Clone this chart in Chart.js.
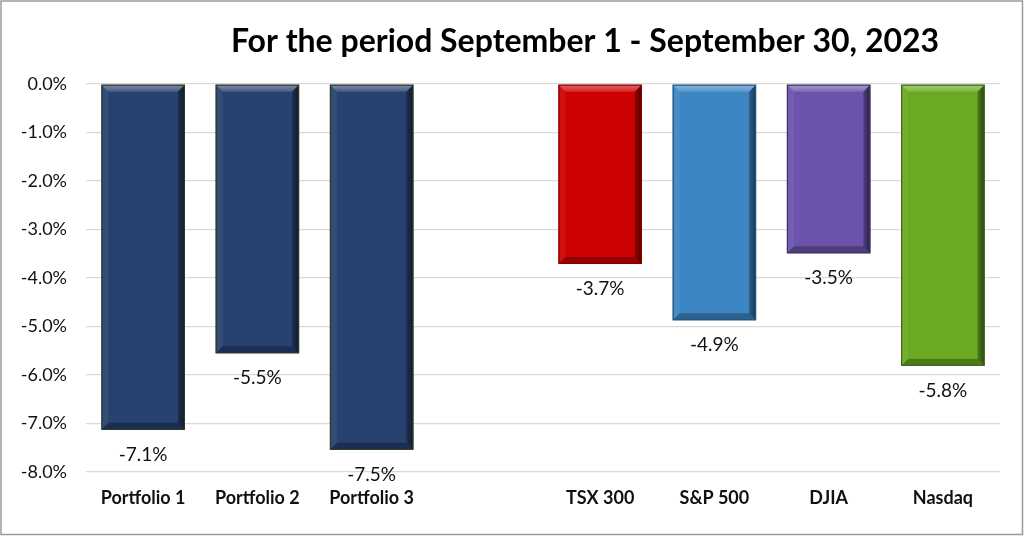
<!DOCTYPE html>
<html>
<head>
<meta charset="utf-8">
<script src="https://cdn.jsdelivr.net/npm/chart.js@4.4.0/dist/chart.umd.min.js"></script>
<style>
  html, body { margin: 0; padding: 0; background: #fff; }
  #wrap { width: 1024px; height: 536px; position: relative; }
  canvas { display: block; }
</style>
</head>
<body>
<div id="wrap"><canvas id="c" width="1024" height="536"></canvas></div>
<script>
const titleText = "For the period September 1 - September 30, 2023";
const categories = ["Portfolio 1", "Portfolio 2", "Portfolio 3", "", "TSX 300", "S&P 500", "DJIA", "Nasdaq"];
const returnsPct = [-7.13, -5.55, -7.54, null, -3.71, -4.87, -3.49, -5.81];
const barColors = ["#28416e", "#28416e", "#28416e", "#ffffff", "#cc0202", "#3d86c4", "#6c54ad", "#6aaa22"];
const barBorders = ["#2b3a22", "#2b3a22", "#2b3a22", "#ffffff", "#8a0000", "#24557f", "#3f3166", "#3d6313"];
const yTickMin = -8;
const yTickMax = 0;
const yTickStep = 1;

const FONT = "Lato, 'Open Sans', sans-serif";

const borderPlugin = {
  id: 'outerBorder',
  beforeDraw(chart) {
    const ctx = chart.ctx;
    ctx.save();
    ctx.fillStyle = '#ffffff';
    ctx.fillRect(0, 0, chart.width, chart.height);
    ctx.strokeStyle = '#9a9a9a';
    ctx.lineWidth = 1.5;
    ctx.strokeRect(1, 1, chart.width - 2.5, chart.height - 2.5);
    ctx.restore();
  }
};

const titlePlugin = {
  id: 'customTitle',
  afterDraw(chart) {
    const ctx = chart.ctx;
    ctx.save();
    ctx.font = "bold 32px " + FONT;
    ctx.fillStyle = '#000';
    ctx.textAlign = 'center';
    ctx.textBaseline = 'middle';
    ctx.fillText(titleText, 585, 42);
    ctx.restore();
  }
};

const bevelPlugin = {
  id: 'bevel',
  afterDatasetsDraw(chart) {
    const ctx = chart.ctx;
    const meta = chart.getDatasetMeta(0);
    meta.data.forEach((bar, i) => {
      if (returnsPct[i] === null) return;
      const p = bar.getProps(['x', 'y', 'base', 'width'], true);
      const l = p.x - p.width / 2, r = p.x + p.width / 2;
      const t = Math.min(p.y, p.base), b = Math.max(p.y, p.base);
      const d = 7;
      ctx.save();
      let g = ctx.createLinearGradient(0, t, 0, t + d);
      g.addColorStop(0, 'rgba(255,255,255,0.40)');
      g.addColorStop(1, 'rgba(255,255,255,0.15)');
      ctx.fillStyle = g;
      ctx.beginPath();
      ctx.moveTo(l, t); ctx.lineTo(r, t); ctx.lineTo(r - d, t + d); ctx.lineTo(l + d, t + d); ctx.closePath(); ctx.fill();
      ctx.fillStyle = 'rgba(255,255,255,0.06)';
      ctx.beginPath();
      ctx.moveTo(l, t); ctx.lineTo(l + d, t + d); ctx.lineTo(l + d, b - d); ctx.lineTo(l, b); ctx.closePath(); ctx.fill();
      g = ctx.createLinearGradient(r - d, 0, r, 0);
      g.addColorStop(0, 'rgba(0,0,0,0.28)');
      g.addColorStop(1, 'rgba(0,0,0,0.6)');
      ctx.fillStyle = g;
      ctx.beginPath();
      ctx.moveTo(r, t); ctx.lineTo(r, b); ctx.lineTo(r - d, b - d); ctx.lineTo(r - d, t + d); ctx.closePath(); ctx.fill();
      ctx.fillStyle = 'rgba(0,0,0,0.28)';
      ctx.beginPath();
      ctx.moveTo(l, b); ctx.lineTo(r, b); ctx.lineTo(r - d, b - d); ctx.lineTo(l + d, b - d); ctx.closePath(); ctx.fill();
      ctx.strokeStyle = barBorders[i];
      ctx.lineWidth = 1.2;
      ctx.strokeRect(l + 0.5, t + 0.5, r - l - 1, b - t - 1);
      ctx.restore();
    });
  },
  afterDraw(chart) {
    const ctx = chart.ctx;
    const meta = chart.getDatasetMeta(0);
    ctx.save();
    ctx.font = "19px " + FONT;
    ctx.fillStyle = '#111';
    ctx.textAlign = 'center';
    ctx.textBaseline = 'middle';
    meta.data.forEach((bar, i) => {
      const v = returnsPct[i];
      if (v === null) return;
      const p = bar.getProps(['x', 'y'], true);
      ctx.fillText(v.toFixed(1) + '%', p.x, p.y + 25);
    });
    ctx.restore();
  }
};

new Chart(document.getElementById('c'), {
  type: 'bar',
  data: {
    labels: categories,
    datasets: [{
      data: returnsPct,
      backgroundColor: barColors,
      borderWidth: 0,
      categoryPercentage: 1,
      barPercentage: 0.73
    }]
  },
  options: {
    responsive: false,
    animation: false,
    devicePixelRatio: 1,
    layout: { padding: { top: 84, left: 0, right: 24, bottom: 0 } },
    plugins: {
      legend: { display: false },
      tooltip: { enabled: false },
      title: { display: false }
    },
    scales: {
      x: {
        grid: { display: false, drawTicks: false },
        border: { display: false },
        ticks: {
          color: '#111',
          font: { family: FONT, size: 18, weight: 'bold' },
          padding: 15,
          maxRotation: 0,
          autoSkip: false
        },
        afterFit(scale) { scale.height = 64; }
      },
      y: {
        min: yTickMin,
        max: yTickMax,
        grid: { color: '#d9d9d9', lineWidth: 1.3, drawTicks: false },
        border: { display: false },
        ticks: {
          stepSize: yTickStep,
          color: '#111',
          font: { family: FONT, size: 18 },
          padding: 19,
          callback: v => Number(v).toFixed(1) + '%'
        },
        afterFit(scale) { scale.width = 86; }
      }
    }
  },
  plugins: [borderPlugin, titlePlugin, bevelPlugin]
});
</script>
</body>
</html>
